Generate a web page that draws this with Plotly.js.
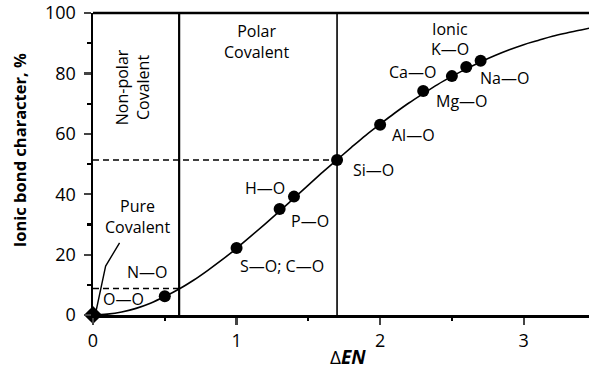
<!DOCTYPE html>
<html><head><meta charset="utf-8">
<script src="https://cdn.plot.ly/plotly-3.0.1.min.js"></script>
<style>html,body{margin:0;padding:0;background:#fff}#chart{width:589px;height:370px}</style>
</head><body><div id="chart"></div>
<script>
// Data
const bondNames = ['O—O','N—O','S—O; C—O','P—O','H—O','Si—O','Al—O','Mg—O','Ca—O','K—O','Na—O'];
const deltaEN   = [0, 0.5, 1.0, 1.3, 1.4, 1.7, 2.0, 2.3, 2.5, 2.6, 2.7];
const ionicPct  = [0, 6.2, 22.2, 35.1, 39.2, 51.3, 63.0, 74.2, 79.1, 82.1, 84.2];

const curveX = [0, 0.1, 0.2, 0.3, 0.4, 0.5, 0.6, 0.7, 0.8, 0.9, 1.0, 1.1, 1.2, 1.3, 1.4, 1.5, 1.6, 1.7, 1.8, 1.9, 2.0, 2.1, 2.2, 2.3, 2.4, 2.5, 2.6, 2.7, 2.8, 2.9, 3.0, 3.1, 3.2, 3.3, 3.4, 3.46];
const curveY = [0, 0.3, 1.0, 2.2, 3.9, 6.1, 8.6, 11.5, 14.8, 18.3, 22.1, 26.1, 30.2, 34.4, 38.7, 43.0, 47.3, 51.4, 55.5, 59.5, 63.2, 66.8, 70.2, 73.3, 76.3, 79.0, 81.5, 83.8, 85.9, 87.8, 89.5, 90.9, 92.3, 93.4, 94.4, 95.0];

const boundaryX = [0.6, 1.7];          // region dividers
const boundaryLevel = [8.8, 51.3];     // dashed reference levels
const pointerX = [0.02, 0.088, 0.185]; // "Pure Covalent" pointer
const pointerY = [1, 16.2, 23.9];

const xTicks = [0, 1, 2, 3];
const yTicks = [0, 20, 40, 60, 80, 100];

const font = "'Open Sans', 'DejaVu Sans', sans-serif";
const traces = [];
boundaryX.forEach((bx, i) => traces.push({
  x: [bx, bx], y: [0, 100], mode: 'lines', hoverinfo: 'skip',
  line: {color: '#000', width: i === 0 ? 2.2 : 1.6}
}));
boundaryLevel.forEach((lv, i) => traces.push({
  x: [0, boundaryX[i]], y: [lv, lv], mode: 'lines', hoverinfo: 'skip',
  line: {color: '#000', width: 1.5, dash: '6px,4px'}
}));
traces.push({x: curveX, y: curveY, mode: 'lines', line: {color: '#000', width: 1.6, shape: 'spline'}, hoverinfo: 'skip'});
traces.push({x: pointerX, y: pointerY, mode: 'lines', line: {color: '#000', width: 1.4}, hoverinfo: 'skip'});
traces.push({
  x: deltaEN, y: ionicPct, mode: 'markers', text: bondNames, cliponaxis: false,
  marker: {color: '#000', opacity: 1, size: deltaEN.map(v => v === 0 ? 14 : 12),
           symbol: deltaEN.map(v => v === 0 ? 'diamond' : 'circle'), line: {width: 0}}
});

const labelPos = {
  'O—O': [0.209, 5.2], 'N—O': [0.383, 14.1], 'S—O; C—O': [1.317, 16.3], 'P—O': [1.51, 31.2],
  'H—O': [1.20, 41.9], 'Si—O': [1.955, 48.0], 'Al—O': [2.23, 59.6], 'Mg—O': [2.571, 71.0],
  'Ca—O': [2.223, 80.5], 'K—O': [2.49, 88.1], 'Na—O': [2.868, 78.4]
};
const annotations = bondNames.map(n => ({
  x: labelPos[n][0], y: labelPos[n][1], text: n, showarrow: false,
  font: {family: font, size: 16, color: '#000'}
}));
const regionLabels = [
  {x: 0.28, y: 75.5, text: 'Non-polar<br>Covalent', textangle: -90},
  {x: 0.307, y: 32.5, text: 'Pure<br>Covalent'},
  {x: 1.138, y: 90.6, text: 'Polar<br>Covalent'},
  {x: 2.485, y: 94.7, text: 'Ionic'}
];
regionLabels.forEach(r => annotations.push(Object.assign({
  showarrow: false, font: {family: font, size: 16, color: '#000'}
}, r)));
// axis titles
annotations.push({xref: 'paper', yref: 'paper', x: -0.149, y: 0.546, xanchor: 'center', yanchor: 'middle',
  text: '<b>Ionic bond character, %</b>', textangle: -90, showarrow: false,
  font: {family: font, size: 16.5, color: '#000'}});
annotations.push({xref: 'paper', yref: 'paper', x: 0.514, y: -0.139, xanchor: 'center', yanchor: 'middle',
  text: 'Δ<b><i>EN</i></b>', showarrow: false, font: {family: font, size: 19, color: '#000'}});

const layout = {
  width: 589, height: 370,
  margin: {l: 93, r: 0, t: 13, b: 55},
  paper_bgcolor: '#fff', plot_bgcolor: '#fff',
  showlegend: false,
  font: {family: font, color: '#000'},
  xaxis: {
    range: [0, 3.455], tickvals: xTicks, ticks: 'outside', ticklen: 7, tickwidth: 2.2,
    showline: true, linewidth: 2.5, linecolor: '#000', showgrid: false, zeroline: false,
    tickfont: {family: font, size: 18}, ticklabelstandoff: 1,
    minor: {tickvals: [0.5, 1.5, 2.5], ticks: 'outside', ticklen: 3.5, tickwidth: 2.2, tickcolor: '#000'}
  },
  yaxis: {
    range: [0, 100], tickvals: yTicks, ticks: 'outside', ticklen: 7, tickwidth: 2.2,
    showline: true, linewidth: 2.5, linecolor: '#000', showgrid: false, zeroline: false,
    tickfont: {family: font, size: 18}, ticklabelstandoff: 4,
    minor: {tickvals: [10, 30, 50, 70, 90], ticks: 'outside', ticklen: 3.5, tickwidth: 2.2, tickcolor: '#000'}
  },
  shapes: [{type: 'line', xref: 'paper', yref: 'paper', x0: 0, x1: 1, y0: 1, y1: 1, line: {color: '#000', width: 2.5}}],
  annotations: annotations
};
Plotly.newPlot('chart', traces, layout, {staticPlot: true, displayModeBar: false});
</script></body></html>
